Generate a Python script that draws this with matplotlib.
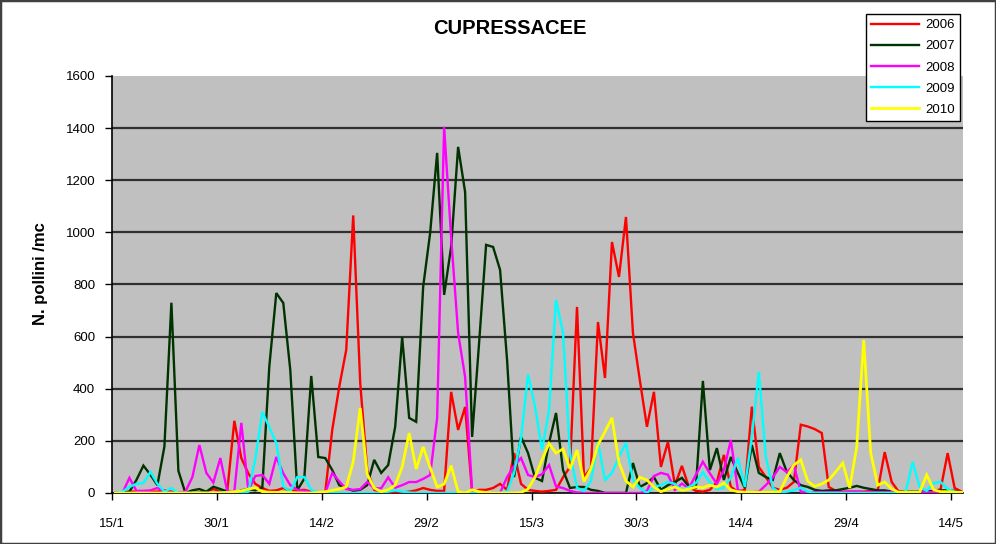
import matplotlib
matplotlib.use("Agg")
import matplotlib.pyplot as plt
from matplotlib.patches import Rectangle

plt.rcParams['font.family'] = ['Liberation Sans', 'DejaVu Sans']

# ---- data (daily counts, 15/1 .. 14/5, leap-year calendar) ----
y2006 = [0, 2, 5, 5, 5, 5, 5, 10, 5, 2,
         0, 0, 2, 5, 15, 5, 10, 277, 134, 75,
         35, 19, 8, 10, 19, 8, 10, 12, 5, 3,
         2, 242, 407, 549, 1065, 422, 88, 12, 3, 2,
         2, 2, 5, 10, 19, 12, 8, 8, 388, 242,
         330, 2, 12, 12, 19, 35, 12, 153, 35, 12,
         8, 5, 8, 12, 60, 100, 714, 61, 96, 656,
         441, 963, 829, 1059, 614, 430, 254, 388, 100, 196,
         30, 104, 23, 8, 5, 12, 42, 146, 23, 5,
         12, 331, 100, 61, 20, 12, 20, 42, 262, 255,
         245, 230, 23, 8, 5, 5, 5, 5, 8, 10,
         157, 42, 5, 3, 3, 3, 5, 5, 15, 153,
         19, 5]
y2007 = [0, 0, 5, 50, 105, 70, 30, 178, 730, 85,
         0, 10, 15, 5, 24, 15, 5, 0, 10, 15,
         10, 20, 485, 767, 729, 472, 10, 55, 449, 138,
         134, 88, 30, 19, 8, 12, 30, 127, 77, 107,
         254, 598, 288, 273, 791, 998, 1305, 760, 944, 1328,
         1155, 215, 576, 952, 944, 856, 510, 61, 215, 153,
         58, 46, 192, 307, 88, 19, 23, 23, 12, 8,
         0, 0, 0, 0, 115, 23, 38, 61, 12, 30,
         42, 58, 25, 20, 430, 88, 172, 50, 138, 77,
         19, 184, 77, 61, 50, 153, 81, 50, 30, 23,
         12, 8, 10, 10, 15, 20, 27, 20, 15, 10,
         10, 5, 5, 5, 5, 5, 5, 8, 10, 10,
         8, 0]
y2008 = [0, 0, 58, 8, 8, 10, 19, 5, 0, 0,
         5, 61, 184, 77, 40, 134, 5, 5, 269, 10,
         65, 69, 35, 138, 75, 30, 12, 8, 3, 2,
         0, 77, 45, 15, 12, 15, 42, 18, 18, 60,
         20, 30, 42, 42, 54, 69, 288, 1405, 982, 614,
         445, 10, 2, 0, 0, 0, 61, 104, 134, 69,
         61, 72, 107, 25, 19, 8, 2, 0, 0, 0,
         0, 0, 0, 0, 0, 0, 8, 65, 77, 70,
         12, 36, 18, 70, 120, 75, 35, 88, 203, 12,
         3, 3, 5, 30, 60, 100, 80, 107, 5, 3,
         3, 3, 3, 3, 3, 5, 5, 3, 3, 3,
         3, 3, 3, 3, 3, 3, 3, 3, 3, 3,
         3, 2]
y2009 = [0, 5, 23, 35, 38, 81, 35, 5, 19, 0,
         0, 0, 0, 0, 0, 2, 2, 0, 0, 5,
         130, 311, 252, 192, 25, 5, 61, 61, 12, 2,
         0, 0, 0, 0, 0, 0, 0, 0, 2, 5,
         10, 5, 2, 0, 0, 0, 0, 0, 0, 0,
         0, 0, 0, 0, 0, 0, 5, 77, 210, 455,
         331, 165, 318, 741, 614, 150, 20, 8, 46, 196,
         50, 77, 138, 192, 50, 19, 0, 23, 30, 42,
         35, 10, 23, 38, 80, 40, 15, 20, 60, 134,
         23, 215, 465, 138, 20, 0, 5, 10, 20, 5,
         0, 0, 0, 0, 0, 0, 0, 0, 0, 0,
         0, 0, 0, 5, 119, 23, 8, 38, 42, 15,
         5, 0]
y2010 = [0, 0, 0, 0, 0, 0, 0, 0, 0, 0,
         0, 0, 0, 0, 0, 0, 2, 5, 8, 15,
         20, 5, 3, 2, 2, 2, 0, 0, 0, 2,
         5, 10, 15, 23, 120, 326, 72, 19, 5, 12,
         30, 100, 230, 92, 177, 98, 23, 34, 105, 5,
         0, 12, 5, 2, 0, 0, 0, 0, 2, 15,
         61, 127, 190, 153, 169, 92, 165, 44, 94, 185,
         235, 288, 117, 46, 23, 60, 50, 23, 5, 15,
         23, 10, 15, 23, 20, 30, 23, 38, 12, 5,
         3, 3, 3, 3, 3, 5, 61, 107, 127, 45,
         25, 35, 50, 81, 115, 19, 177, 587, 153, 30,
         42, 15, 3, 3, 3, 3, 69, 12, 5, 5,
         3, 2]
series = [("2006", y2006, "#ff0000"),
          ("2007", y2007, "#003300"),
          ("2008", y2008, "#ff00ff"),
          ("2009", y2009, "#00ffff"),
          ("2010", y2010, "#ffff00")]
tick_labels = ["15/1", "30/1", "14/2", "29/2", "15/3", "30/3", "14/4", "29/4", "14/5"]
title = "CUPRESSACEE"
ylabel = "N. pollini /mc"

# ---- figure ----
fig = plt.figure(figsize=(9.96, 5.44), dpi=100)
fig.patch.set_facecolor("white")
ax = fig.add_axes([0.1124, 0.0938, 0.9669 - 0.1124, 0.8603 - 0.0938])
ax.set_facecolor("#c0c0c0")

for name, vals, col in series:
    ax.plot(range(len(vals)), vals, color=col, lw=1.7 if name != "2010" else 2.0,
            label=name, solid_joinstyle="miter", zorder=3)

ax.set_xlim(-0.5, 121.2)
ax.set_ylim(0, 1600)
ax.set_yticks(range(0, 1601, 200))
for v in range(200, 1600, 200):
    ax.axhline(v, color="#303030", lw=1.6, zorder=1)
ax.set_xticks([15 * k - 0.5 for k in range(len(tick_labels))])
ax.set_xticklabels(tick_labels)
ax.tick_params(axis="both", direction="out", length=5, width=1, colors="black",
               labelsize=9.5)
ax.tick_params(axis="y", pad=7)
ax.tick_params(axis="x", pad=13)
for s in ["top", "right"]:
    ax.spines[s].set_visible(False)
for s in ["left", "bottom"]:
    ax.spines[s].set_color("black")
    ax.spines[s].set_linewidth(1.2)

ax.set_ylabel(ylabel, fontsize=12, fontweight="bold")
ax.yaxis.set_label_coords((48 - 112) / 851, (493 - 274) / 417)
fig.text(0.512, 0.948, title, ha="center", va="center", fontsize=14.5,
         fontweight="bold")

leg = ax.legend(loc="upper left", bbox_to_anchor=(866 / 996, 1 - 14 / 544),
                bbox_transform=fig.transFigure, frameon=True, fancybox=False,
                edgecolor="black", framealpha=1, fontsize=9.5, handlelength=3.6,
                handletextpad=0.5, labelspacing=0.68, borderpad=0.38,
                borderaxespad=0)
leg.get_frame().set_linewidth(1.0)

fig.patches.append(Rectangle((0, 0), 1, 1, transform=fig.transFigure, fill=False,
                             edgecolor="#404040", lw=2.5, zorder=10))

fig.savefig("out.png", dpi=100)
